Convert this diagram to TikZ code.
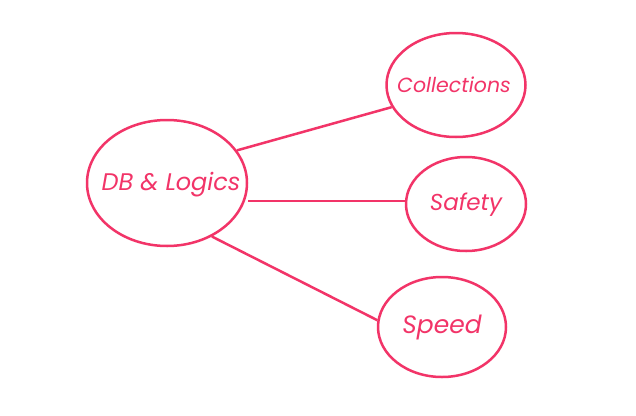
\documentclass[tikz,border=0pt]{standalone}
\usepackage{fontspec}
\setmainfont{Poppins}
\usetikzlibrary{shapes.geometric}
\definecolor{pinkred}{RGB}{242,52,104}
\begin{document}
\begin{tikzpicture}[x=1pt,y=-1pt,
  bubble/.style={draw=pinkred,line width=2.5pt,ellipse,inner sep=0pt},
  caption/.style={text=pinkred,font=\itshape\fontsize{#1}{#1}\selectfont},
  link/.style={draw=pinkred,line width=2.5pt}]
\useasboundingbox[fill=white] (0,0) rectangle (636,415);
\node[bubble,minimum width=160pt,minimum height=126pt,label={[caption=24,xshift=4pt,yshift=-2pt]center:DB \& Logics}] (db) at (167,183) {};
\node[bubble,minimum width=139pt,minimum height=104pt,label={[caption=20.5,xshift=-2pt]center:Collections}] (col) at (456,85) {};
\node[bubble,minimum width=120pt,minimum height=94pt,label={[caption=23,yshift=-1pt]center:Safety}] (saf) at (466,204) {};
\node[bubble,minimum width=128pt,minimum height=100pt,label={[caption=25]center:Speed}] (spd) at (442,327) {};
\draw[link] (db.25) -- (col.199);
\draw[link] (db.east |- 0,201) -- (saf.west |- 0,201);
\draw[link] (db.-50) -- (spd.174);
\end{tikzpicture}
\end{document}
